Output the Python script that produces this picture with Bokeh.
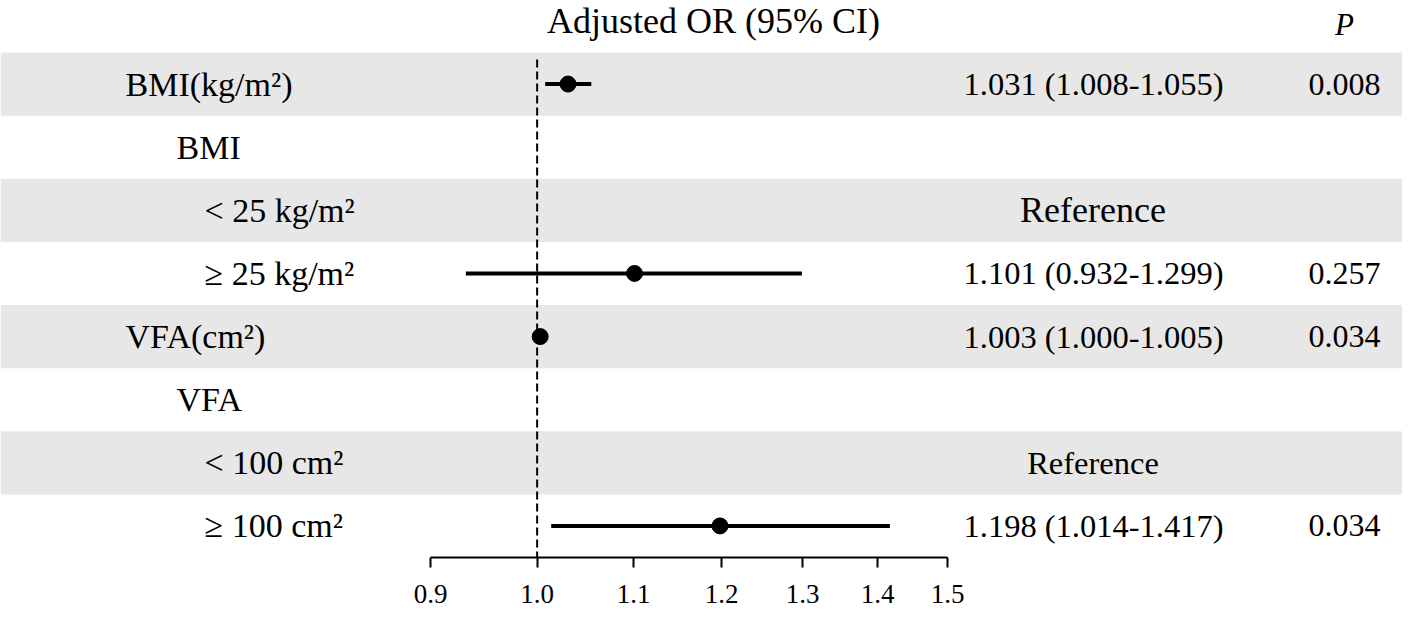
import math
from bokeh.plotting import figure
from bokeh.models import (Range1d, LinearScale, ColumnDataSource, FixedTicker,
                          CustomJSTickFormatter, BoxAnnotation)
from bokeh.core.properties import value
from bokeh.embed import file_html
from bokeh.resources import INLINE

# ---------------- data ----------------
header_or = "Adjusted OR (95% CI)"
header_p = "P"
labels = ["BMI(kg/m²)", "BMI", "< 25 kg/m²", "≥ 25 kg/m²",
          "VFA(cm²)", "VFA", "< 100 cm²", "≥ 100 cm²"]
levels = [0, 1, 2, 2, 0, 1, 2, 2]
or_est = [1.031, None, None, 1.101, 1.003, None, None, 1.198]
or_low = [1.008, None, None, 0.932, 1.000, None, None, 1.014]
or_high = [1.055, None, None, 1.299, 1.005, None, None, 1.417]
is_reference = [False, False, True, False, False, False, True, False]
p_values = ["0.008", "", "", "0.257", "0.034", "", "", "0.034"]
x_ticks = [0.9, 1.0, 1.1, 1.2, 1.3, 1.4, 1.5]
ref_text = "Reference"

# ---------------- layout ----------------
FONT = value("Liberation Serif")
FRAME_W = 1402
ROW_H = 63.1
FIRST_ROW_TOP = 52          # px from top of figure
ANCHOR_LO_PX, ANCHOR_HI_PX = 430, 947
k = (math.log(x_ticks[-1]) - math.log(x_ticks[0])) / (ANCHOR_HI_PX - ANCHOR_LO_PX)
x_lo = math.exp(math.log(x_ticks[0]) - ANCHOR_LO_PX * k)
x_hi = math.exp(math.log(x_ticks[-1]) + (FRAME_W - ANCHOR_HI_PX) * k)

n = len(labels)
rows = list(range(1, n + 1))
y_top = 0.5 - FIRST_ROW_TOP / ROW_H
FRAME_H = int(round((n + 0.5 - y_top) * ROW_H))

p = figure(frame_width=FRAME_W, frame_height=FRAME_H, x_axis_type="log",
           x_range=Range1d(x_lo, x_hi), y_range=Range1d(n + 0.5, y_top),
           output_backend="svg", toolbar_location=None, y_axis_location=None,
           min_border_left=0, min_border_right=0, min_border_top=0,
           min_border_bottom=56)
p.extra_x_ranges = {"txt": Range1d(0, FRAME_W)}
p.extra_x_scales = {"txt": LinearScale()}
p.outline_line_color = None
p.xgrid.visible = False
p.ygrid.visible = False
p.background_fill_color = "white"
p.border_fill_color = "white"

# gray bands on alternate rows
for r in rows:
    if r % 2 == 1:
        p.add_layout(BoxAnnotation(bottom=r - 0.5, top=r + 0.5,
                                   fill_color="#E7E7E7", fill_alpha=1.0,
                                   line_color=None, level="underlay"))

# reference line at OR = 1
p.segment(x0=[1.0], x1=[1.0], y0=[rows[0] - 0.39], y1=[rows[-1] + 0.5],
          line_color="black", line_width=2, line_dash="8 4")

# CI and points
est_rows = [r for r, v in zip(rows, or_est) if v is not None]
src = ColumnDataSource(dict(
    y=est_rows,
    est=[v for v in or_est if v is not None],
    lo=[v for v in or_low if v is not None],
    hi=[v for v in or_high if v is not None],
))
p.segment(x0="lo", x1="hi", y0="y", y1="y", source=src,
          line_color="black", line_width=4)
p.scatter(x="est", y="y", source=src, size=16, color="black")

# headers
p.text(x=[713], y=[0], text=[header_or], x_range_name="txt",
       text_font=FONT, text_font_size="36px", text_align="center",
       text_baseline="middle", text_color="black")
p.text(x=[1344], y=[0.05], text=[header_p], x_range_name="txt",
       text_font=FONT, text_font_size="31px", text_font_style="italic",
       text_align="center", text_baseline="middle", text_color="black")

# left labels
indent = {0: 125, 1: 176, 2: 204}
p.text(x=[indent[l] for l in levels], y=rows, text=labels, x_range_name="txt",
       text_font=FONT, text_font_size="34px", text_align="left",
       text_baseline="middle", text_color="black")

# OR text column
or_txt = []
for v, lo, hi in zip(or_est, or_low, or_high):
    or_txt.append("" if v is None else f"{v:.3f} ({lo:.3f}-{hi:.3f})")
p.text(x=[1093] * n, y=rows, text=or_txt, x_range_name="txt",
       text_font=FONT, text_font_size="32.5px", text_align="center",
       text_baseline="middle", text_color="black")

# Reference rows (first one drawn slightly larger, as in the original)
ref_rows = [r for r, f in zip(rows, is_reference) if f]
ref_sizes = ["36px", "32.5px"]
for r, fs in zip(ref_rows, ref_sizes):
    p.text(x=[1092.5], y=[r], text=[ref_text], x_range_name="txt",
           text_font=FONT, text_font_size=fs, text_align="center",
           text_baseline="middle", text_color="black")

# P values
p.text(x=[1344] * n, y=rows, text=p_values, x_range_name="txt",
       text_font=FONT, text_font_size="32px", text_align="center",
       text_baseline="middle", text_color="black")

# x axis
ax = p.xaxis[0]
ax.ticker = FixedTicker(ticks=x_ticks)
ax.formatter = CustomJSTickFormatter(code="return tick.toFixed(1);")
ax.bounds = (x_ticks[0], x_ticks[-1])
ax.axis_line_width = 2
ax.axis_line_color = "black"
ax.major_tick_line_width = 2
ax.major_tick_line_color = "black"
ax.major_tick_out = 10
ax.major_tick_in = 0
ax.minor_tick_out = 0
ax.minor_tick_in = 0
ax.minor_tick_line_color = None
ax.major_label_standoff = 17
ax.major_label_text_font = "Liberation Serif"
ax.major_label_text_font_size = "27px"
ax.major_label_text_color = "black"

open("out.html", "w").write(file_html(p, INLINE))
